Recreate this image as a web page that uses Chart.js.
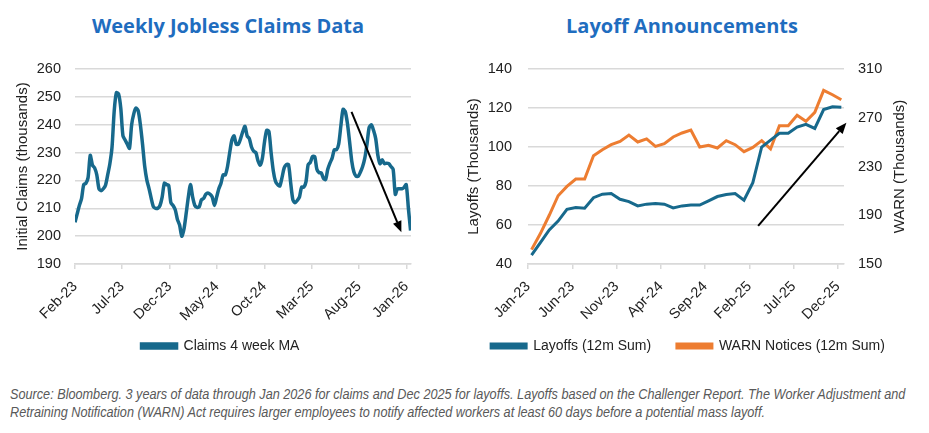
<!DOCTYPE html>
<html>
<head>
<meta charset="utf-8">
<script src="https://cdn.jsdelivr.net/npm/chart.js@4.4.1/dist/chart.umd.min.js"></script>
<style>
  body { margin: 0; background: #fff; width: 929px; height: 433px; overflow: hidden; position: relative; font-family: "Liberation Sans", Arial, sans-serif; }
  .title { position: absolute; top: 12px; font: 700 20px "Open Sans", sans-serif; color: #1F6DBF; white-space: nowrap; transform: translateX(-50%); }
  #c1 { position: absolute; left: 0; top: 0; }
  #c2 { position: absolute; left: 460px; top: 0; }
  .note { position: absolute; left: 10px; top: 385px; white-space: nowrap; font: italic 14px "Liberation Sans", sans-serif; color: #595959; line-height: 18px; transform: scaleX(0.905); transform-origin: 0 0; }
</style>
</head>
<body>
<div class="title" style="left:228px">Weekly Jobless Claims Data</div>
<div class="title" style="left:682px">Layoff Announcements</div>
<canvas id="c1" width="460" height="370"></canvas>
<canvas id="c2" width="469" height="370"></canvas>
<div class="note">Source: Bloomberg. 3 years of data through Jan 2026 for claims and Dec 2025 for layoffs. Layoffs based on the Challenger Report. The Worker Adjustment and<br>Retraining Notification (WARN) Act requires larger employees to notify affected workers at least 60 days before a potential mass layoff.</div>
<script>
// weekly claims, 4 week moving average (thousands), week 0 = early Feb 2023
const claims = [
  205, 208, 211, 213.5, 218.5, 219, 221, 229, 225.5, 224.5,
  222, 217, 216.3, 217, 218.3, 222, 226, 232, 245, 251.5,
  251, 246, 236, 234.5, 233, 231.5, 240, 244, 246, 245,
  240, 233, 225, 220, 217, 213.5, 210.5, 210, 210, 211,
  214, 219, 218.5, 218.2, 212, 211, 209.5, 206, 204, 200,
  202.5, 208, 214, 218.5, 214, 211, 210.3, 210.5, 213, 213.5,
  215, 215.5, 215, 214, 211, 214, 217, 219, 222, 222,
  225, 230, 234.5, 236, 233, 233, 235, 237.5, 239.4, 236,
  235, 232, 230.5, 230, 227, 225.5, 228, 234, 238, 237.5,
  230, 223.5, 219.7, 218.5, 218, 221, 224.5, 225.7, 225.7, 219,
  213, 212, 212.8, 214, 217.6, 217.6, 219.5, 225.7, 226.5, 228.6,
  228.6, 224, 222.8, 222.7, 220.8, 220.3, 224, 226.2, 228, 231,
  231, 233, 239.5, 245.5, 244.8, 240.6, 234, 227, 223, 221.5,
  221.5, 223, 225, 228, 233, 239, 240, 238, 235, 229,
  226, 227.4, 226, 226.2, 226, 225, 224, 215, 217, 217,
  217, 217.5, 218.5, 210, 202
];
const claimTickLabels = ['Feb-23', 'Jul-23', 'Dec-23', 'May-24', 'Oct-24', 'Mar-25', 'Aug-25', 'Jan-26'];
const claimTickWeeks = [0, 21.6, 43.4, 65.1, 86.9, 108.6, 130.4, 152.1];
const claimArrow = [126.9, 244.6, 149.8, 201.4];

// monthly, Jan-23 .. Dec-25
const layoffs = [
  44.6, 51, 57.5, 62, 68, 69, 68.6, 74, 75.8, 76.1, 73.2, 72,
  69.8, 70.7, 71, 70.7, 68.8, 69.8, 70.2, 70.2, 72.4, 74.6, 75.6, 76.1,
  72.7, 81.7, 100, 103.5, 107, 107, 110.2, 111.6, 109.5, 119.2, 120.6, 120.4
];
const warn = [
  161.8, 175, 190, 206, 213.7, 219.7, 219.7, 238.9, 243.8, 247.9, 250.6, 255.8,
  250.1, 252.6, 246.5, 248.7, 254.2, 257.5, 259.9, 246, 247.4, 245.2, 251.2, 247.9,
  242.2, 245.7, 251.2, 244.4, 263.5, 263.5, 272, 267.1, 274.4, 292.5, 288.9, 284.8
];
const layoffTickLabels = ['Jan-23', 'Jun-23', 'Nov-23', 'Apr-24', 'Sep-24', 'Feb-25', 'Jul-25', 'Dec-25'];
const layoffTickMonths = [-0.4, 4.6, 9.6, 14.6, 19.6, 24.6, 29.6, 34.6];
const layoffArrow = [25.6, 59.6, 35.57, 112.4];

const BLUE = '#17698C';
const ORANGE = '#ED7D31';
const GRID = '#d9d9d9';
const TEXT = '#222';

// black trend arrows, given in data units
const arrowPlugin = {
  id: 'arrows',
  afterDatasetsDraw(chart, args, opts) {
    const ctx = chart.ctx;
    const xs = chart.scales.x, ys = chart.scales[opts.yAxis];
    const a = opts.arrow;
    const x1 = xs.getPixelForValue(a[0]), y1 = ys.getPixelForValue(a[1]);
    const x2 = xs.getPixelForValue(a[2]), y2 = ys.getPixelForValue(a[3]);
    const ang = Math.atan2(y2 - y1, x2 - x1);
    const len = 11, half = 4.5;
    ctx.save();
    ctx.strokeStyle = '#000';
    ctx.fillStyle = '#000';
    ctx.lineWidth = 2;
    ctx.beginPath();
    ctx.moveTo(x1, y1);
    ctx.lineTo(x2 - Math.cos(ang) * len, y2 - Math.sin(ang) * len);
    ctx.stroke();
    ctx.beginPath();
    ctx.moveTo(x2, y2);
    ctx.lineTo(x2 - Math.cos(ang) * len - Math.sin(ang) * half, y2 - Math.sin(ang) * len + Math.cos(ang) * half);
    ctx.lineTo(x2 - Math.cos(ang) * len + Math.sin(ang) * half, y2 - Math.sin(ang) * len - Math.cos(ang) * half);
    ctx.closePath();
    ctx.fill();
    ctx.restore();
  }
};

// right axis title reads bottom-to-top like the left one
const rightTitlePlugin = {
  id: 'rightTitle',
  afterDraw(chart, args, opts) {
    if (!opts.text) return;
    const ctx = chart.ctx;
    const area = chart.chartArea;
    ctx.save();
    ctx.translate(opts.x, (area.top + area.bottom) / 2);
    ctx.rotate(-Math.PI / 2);
    ctx.font = '15px "Liberation Sans", Arial, sans-serif';
    ctx.fillStyle = TEXT;
    ctx.textAlign = 'center';
    ctx.textBaseline = 'middle';
    ctx.fillText(opts.text, 0, 0);
    ctx.restore();
  }
};

function xAxis(min, max, pos, labels) {
  return {
    type: 'linear', min: min, max: max,
    afterBuildTicks: s => { s.ticks = pos.map(v => ({ value: v })); },
    afterFit: s => { s.height = 57; },
    ticks: {
      callback: (v, i) => labels[i],
      autoSkip: false, minRotation: 45, maxRotation: 45,
      font: { size: 14.5 }, color: TEXT, padding: 9
    },
    grid: { drawOnChartArea: false, color: GRID, lineWidth: 1.5, tickLength: 5 },
    border: { color: GRID, width: 1.5 }
  };
}

// legend items with a little extra space after each text
const legendOpts = {
  position: 'bottom',
  labels: {
    boxWidth: 35, boxHeight: 4, padding: 18, font: { size: 14 }, color: TEXT,
    generateLabels(chart) {
      const items = Chart.defaults.plugins.legend.labels.generateLabels(chart);
      items.forEach((it, i) => { if (i < items.length - 1) it.text += '  '; });
      return items;
    }
  }
};

Chart.defaults.font.family = '"Liberation Sans", Arial, sans-serif';

new Chart(document.getElementById('c1'), {
  type: 'line',
  data: {
    datasets: [{
      label: 'Claims 4 week MA',
      data: claims.map((v, i) => ({ x: i, y: v })),
      borderColor: BLUE, backgroundColor: BLUE,
      borderWidth: 3.5, pointRadius: 0, tension: 0.25
    }]
  },
  options: {
    responsive: false, animation: false,
    layout: { padding: { left: 30, right: 49, top: 69, bottom: 7 } },
    plugins: {
      legend: legendOpts,
      tooltip: { enabled: false },
      arrows: { arrow: claimArrow, yAxis: 'y' }
    },
    scales: {
      x: xAxis(0, 154.2, claimTickWeeks, claimTickLabels),
      y: {
        min: 190, max: 260,
        afterFit: s => { s.width = 45; },
        ticks: { stepSize: 10, font: { size: 14.5 }, color: TEXT, padding: 14 },
        grid: { color: GRID, lineWidth: 1.5, drawTicks: false },
        border: { display: false },
        title: { display: true, text: 'Initial Claims (thousands)', font: { size: 15 }, color: TEXT, padding: { top: -16.5, bottom: 0 } }
      }
    }
  },
  plugins: [arrowPlugin]
});

new Chart(document.getElementById('c2'), {
  type: 'line',
  data: {
    datasets: [
      {
        label: 'Layoffs (12m Sum)',
        data: layoffs.map((v, i) => ({ x: i, y: v })),
        yAxisID: 'y',
        borderColor: BLUE, backgroundColor: BLUE,
        borderWidth: 3, pointRadius: 0, tension: 0
      },
      {
        label: 'WARN Notices (12m Sum)',
        data: warn.map((v, i) => ({ x: i, y: v })),
        yAxisID: 'y1',
        borderColor: ORANGE, backgroundColor: ORANGE,
        borderWidth: 3, pointRadius: 0, tension: 0
      }
    ]
  },
  options: {
    responsive: false, animation: false,
    layout: { padding: { left: 5, right: 18, top: 69, bottom: 7 } },
    plugins: {
      legend: legendOpts,
      tooltip: { enabled: false },
      arrows: { arrow: layoffArrow, yAxis: 'y' },
      rightTitle: { text: 'WARN (Thousands)', x: 440 }
    },
    scales: {
      x: xAxis(-0.4, 35.3, layoffTickMonths, layoffTickLabels),
      y: {
        position: 'left', min: 40, max: 140,
        afterFit: s => { s.width = 63; },
        ticks: { stepSize: 20, font: { size: 14.5 }, color: TEXT, padding: 16 },
        grid: { color: GRID, lineWidth: 1.5, drawTicks: false },
        border: { display: false },
        title: { display: true, text: 'Layoffs (Thousands)', font: { size: 15 }, color: TEXT, padding: 0 }
      },
      y1: {
        position: 'right', min: 150, max: 310,
        afterFit: s => { s.width = 67; },
        ticks: { stepSize: 40, font: { size: 14.5 }, color: TEXT, padding: 14 },
        grid: { drawOnChartArea: false, drawTicks: false },
        border: { display: false }
      }
    }
  },
  plugins: [arrowPlugin, rightTitlePlugin]
});
</script>
</body>
</html>
